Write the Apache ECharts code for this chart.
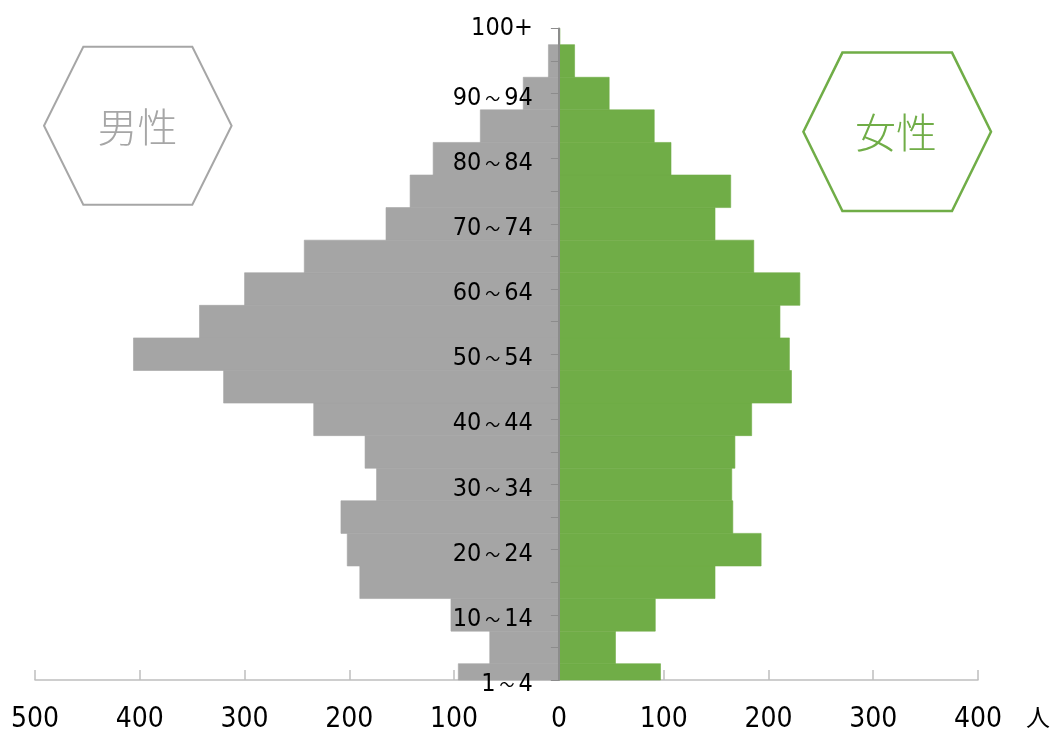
<!DOCTYPE html>
<html>
<head>
<meta charset="utf-8">
<script src="https://cdn.jsdelivr.net/npm/echarts@6/dist/echarts.min.js"></script>
<style>
  html, body { margin: 0; padding: 0; background: #ffffff; }
  #chart { width: 1053px; height: 733px; }
</style>
</head>
<body>
<div id="chart"></div>
<script>
// Age groups, bottom to top
const ageGroups = ['1～4', '5～9', '10～14', '15～19', '20～24', '25～29', '30～34', '35～39',
  '40～44', '45～49', '50～54', '55～59', '60～64', '65～69', '70～74', '75～79',
  '80～84', '85～89', '90～94', '95～99', '100+'];
// Male population (persons)
const male = [96, 66, 103, 190, 202, 208, 174, 185, 234, 320, 406, 343, 300, 243, 165, 142, 120, 75, 34, 10, 0];
// Female population (persons)
const female = [97, 54, 92, 149, 193, 166, 165, 168, 184, 222, 220, 211, 230, 186, 149, 164, 107, 91, 48, 15, 1];
// Value axis range
const xMin = -500, xMax = 400, xStep = 100;
const unitLabel = '人';
const maleLabel = '男性', femaleLabel = '女性';

const chart = echarts.init(document.getElementById('chart'), null, { renderer: 'canvas' });

const numFont = '"DejaVu Sans Condensed", "Noto Sans", "Noto Sans CJK JP", sans-serif';
const cjkFont = '"Noto Sans CJK JP", sans-serif';
const gridLeft = 35, gridRight = 75;
const gridWidth = 1053 - gridLeft - gridRight;
// y axis sits on the value zero
const yAxisOffset = -gridWidth * (0 - xMin) / (xMax - xMin);

function hexPoints(cx, cy, halfW, inset, halfH) {
  return [
    [cx - halfW, cy], [cx - halfW + inset, cy - halfH], [cx + halfW - inset, cy - halfH],
    [cx + halfW, cy], [cx + halfW - inset, cy + halfH], [cx - halfW + inset, cy + halfH]
  ];
}

// Bars centred on category ticks, clipped to the plot area
function renderBar(params, api) {
  const cat = api.value(0);
  const val = api.value(1);
  const p0 = api.coord([0, cat]);
  const p1 = api.coord([val, cat]);
  const h = api.size([0, 1])[1];
  const cs = params.coordSys;
  const rect = echarts.graphic.clipRectByRect(
    { x: Math.min(p0[0], p1[0]), y: p0[1] - h / 2, width: Math.abs(p1[0] - p0[0]), height: h },
    { x: cs.x, y: cs.y, width: cs.width, height: cs.height }
  );
  if (!rect) return null;
  const st = api.style();
  st.stroke = st.fill;
  st.lineWidth = 0.6;
  return { type: 'rect', shape: rect, style: st };
}

function ageLabel(value) {
  const parts = value.split('～');
  if (parts.length === 2) {
    return '{d|' + parts[0] + '}{t|～}{d|' + parts[1] + '}';
  }
  return '{p|' + value + '}';
}

const option = {
  backgroundColor: '#ffffff',
  animation: false,
  grid: { left: gridLeft, right: gridRight, top: 28.4, bottom: 53, containLabel: false, outerBoundsMode: 'none' },
  xAxis: {
    type: 'value',
    min: xMin, max: xMax, interval: xStep,
    splitLine: { show: false },
    axisLine: { show: true, lineStyle: { color: '#bfbfbf', width: 1.5 } },
    axisTick: { show: true, inside: true, length: 10, lineStyle: { color: '#bfbfbf', width: 1.5 } },
    axisLabel: {
      margin: 26,
      color: '#000000',
      fontSize: 28,
      fontFamily: numFont,
      formatter: v => String(Math.abs(v))
    }
  },
  yAxis: {
    type: 'category',
    data: ageGroups,
    boundaryGap: false,
    position: 'left',
    offset: yAxisOffset,
    z: 10,
    axisLine: { show: true, onZero: false, lineStyle: { color: '#8c8c8c', width: 2 } },
    axisTick: { show: true, interval: 0, length: 8, lineStyle: { color: '#8c8c8c', width: 1 } },
    axisLabel: {
      interval: 1,
      margin: 26,
      color: '#000000',
      fontSize: 25,
      fontFamily: numFont,
      formatter: ageLabel,
      rich: {
        d: { fontSize: 25, fontFamily: numFont, color: '#000000', padding: [9, 0, 0, 0] },
        t: { fontSize: 15, fontFamily: cjkFont, color: '#000000', padding: [9, 4, 0, 4] },
        p: { fontSize: 25, fontFamily: numFont, color: '#000000' }
      }
    },
    splitLine: { show: false }
  },
  series: [
    {
      name: maleLabel,
      type: 'custom',
      renderItem: renderBar,
      encode: { x: 1, y: 0 },
      data: male.map((v, i) => [i, -v]),
      itemStyle: { color: '#a5a5a5' },
      z: 2
    },
    {
      name: femaleLabel,
      type: 'custom',
      renderItem: renderBar,
      encode: { x: 1, y: 0 },
      data: female.map((v, i) => [i, v]),
      itemStyle: { color: '#70ad47' },
      z: 2
    }
  ],
  graphic: [
    {
      type: 'polygon',
      shape: { points: hexPoints(137.8, 125.7, 93.8, 39.3, 79) },
      style: { fill: 'none', stroke: '#a6a6a6', lineWidth: 2 },
      silent: true
    },
    {
      type: 'text',
      x: 137.5, y: 127,
      style: {
        text: maleLabel, fill: '#a6a6a6', fontSize: 40,
        fontFamily: cjkFont, fontWeight: 300,
        align: 'center', verticalAlign: 'middle'
      },
      silent: true
    },
    {
      type: 'polygon',
      shape: { points: hexPoints(897.2, 131.8, 93.8, 39, 79.2) },
      style: { fill: 'none', stroke: '#70ad47', lineWidth: 2.5 },
      silent: true
    },
    {
      type: 'text',
      x: 896, y: 132.5,
      style: {
        text: femaleLabel, fill: '#70ad47', fontSize: 41,
        fontFamily: cjkFont, fontWeight: 300,
        align: 'center', verticalAlign: 'middle'
      },
      silent: true
    },
    {
      type: 'text',
      x: 1038, y: 717,
      style: {
        text: unitLabel, fill: '#000000', fontSize: 24,
        fontFamily: cjkFont,
        align: 'center', verticalAlign: 'middle'
      },
      silent: true
    }
  ]
};

chart.setOption(option);
</script>
</body>
</html>
